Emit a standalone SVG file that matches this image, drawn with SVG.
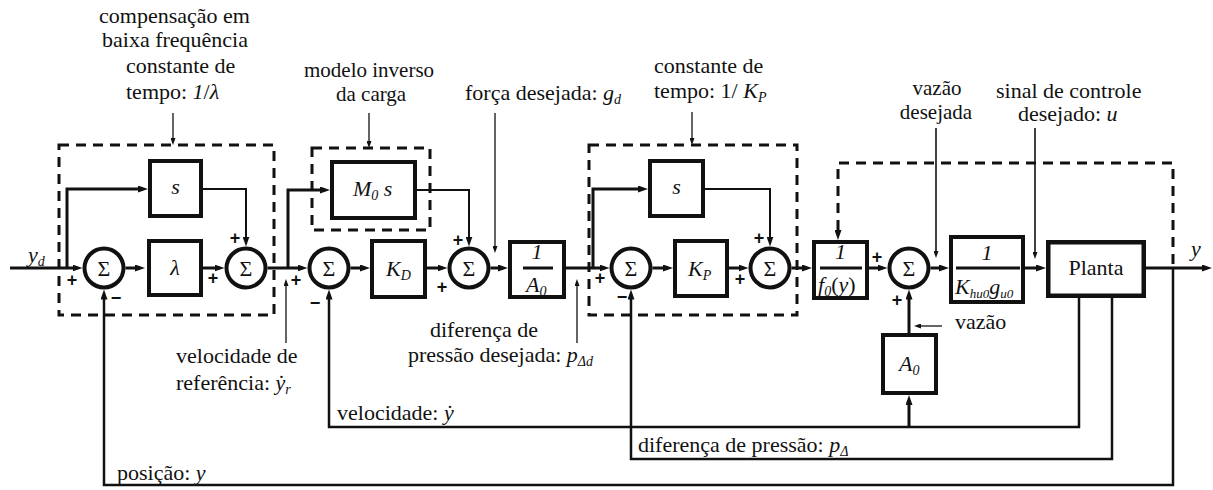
<svg xmlns="http://www.w3.org/2000/svg" width="1213" height="490" viewBox="0 0 1213 490">
<defs>
<style>
.t{font-family:"Liberation Serif","Times New Roman",serif;font-size:22px;fill:#111}
.s21{font-size:21px}
.i{font-style:italic}
.sub{font-size:14px}
.sg{font-family:"Liberation Sans",Arial,sans-serif;font-size:18px;font-weight:bold;fill:#111;text-anchor:middle}
.c{text-anchor:middle}
.box{fill:#fff;stroke:#111;stroke-width:4}
.sum{fill:#fff;stroke:#111;stroke-width:4}
.w3{fill:none;stroke:#111;stroke-width:3}
.w2{fill:none;stroke:#111;stroke-width:2}
.fb{fill:none;stroke:#111;stroke-width:2.5}
.pt{fill:none;stroke:#111;stroke-width:1.3}
.pt2{fill:none;stroke:#111;stroke-width:1.6}
.dash{fill:none;stroke:#111;stroke-width:3;stroke-dasharray:10 7}
.bar{stroke:#111;stroke-width:3}
</style>
<marker id="a" viewBox="0 0 10 7" refX="5" refY="3.5" markerWidth="10" markerHeight="7" markerUnits="userSpaceOnUse" orient="auto"><path d="M0,0L10,3.5L0,7z" fill="#111"/></marker>
<marker id="b" viewBox="0 0 7 5" refX="3" refY="2.5" markerWidth="7" markerHeight="5" markerUnits="userSpaceOnUse" orient="auto"><path d="M0,0L7,2.5L0,5z" fill="#111"/></marker>
</defs>
<rect width="1213" height="490" fill="#fff"/>

<!-- dashed groupings -->
<g id="groups">
<rect class="dash" x="59" y="145" width="215" height="170"/>
<rect class="dash" x="312" y="148" width="118" height="82"/>
<rect class="dash" x="589" y="145" width="208" height="170"/>
<path class="dash" d="M1173,264V163H838V235" marker-end="url(#a)"/>
</g>

<!-- connectors -->
<g id="connectors">
<path class="w3" d="M10,268H77.5" marker-end="url(#a)"/>
<path class="w3" d="M125.5,268H140" marker-end="url(#a)"/>
<path class="w3" d="M203,268H219.5" marker-end="url(#a)"/>
<path class="w3" d="M267.5,268H302.5" marker-end="url(#a)"/>
<path class="w3" d="M350.5,268H365" marker-end="url(#a)"/>
<path class="w3" d="M427,268H442.5" marker-end="url(#a)"/>
<path class="w3" d="M490.5,268H503" marker-end="url(#a)"/>
<path class="w3" d="M566,268H604.5" marker-end="url(#a)"/>
<path class="w3" d="M652.5,268H668" marker-end="url(#a)"/>
<path class="w3" d="M729,268H743.5" marker-end="url(#a)"/>
<path class="w3" d="M791.5,268H807" marker-end="url(#a)"/>
<path class="w3" d="M869,268H882.5" marker-end="url(#a)"/>
<path class="w3" d="M930.5,268H944" marker-end="url(#a)"/>
<path class="w3" d="M1025,268H1041" marker-end="url(#a)"/>
<path class="w3" d="M1146,268H1207" marker-end="url(#a)"/>
<!-- feedforward branches -->
<path class="w3" d="M67,268V189H143" marker-end="url(#a)"/>
<path class="w2" d="M203,189H246V241.5" marker-end="url(#a)"/>
<path class="w3" d="M288,268V190H325" marker-end="url(#a)"/>
<path class="w2" d="M417,190H469V241.5" marker-end="url(#a)"/>
<path class="w3" d="M593,268V189H643" marker-end="url(#a)"/>
<path class="w2" d="M705,189H770V241.5" marker-end="url(#a)"/>
<!-- feedback paths -->
<path class="fb" d="M1173,268V485H104V294.5" marker-end="url(#a)"/>
<path class="fb" d="M1079,298V427H329V294.5" marker-end="url(#a)"/>
<path class="fb" d="M1112,298V459H631V294.5" marker-end="url(#a)"/>
<path class="w3" d="M909,427V400" marker-end="url(#a)"/>
<path class="w3" d="M909,333V294.5" marker-end="url(#a)"/>
<!-- annotation pointers -->
<path class="pt" d="M173,113V141" marker-end="url(#b)"/>
<path class="pt" d="M369,113V144" marker-end="url(#b)"/>
<path class="pt" d="M495,113V249" marker-end="url(#b)"/>
<path class="pt" d="M692,112V141" marker-end="url(#b)"/>
<path class="pt2" d="M936,128V254" marker-end="url(#b)"/>
<path class="pt2" d="M1035,128V255" marker-end="url(#b)"/>
<path class="pt" d="M286,343V283" marker-end="url(#b)"/>
<path class="pt" d="M577,343V283" marker-end="url(#b)"/>
<path class="pt" d="M942,326H918" marker-end="url(#b)"/>
</g>

<!-- summing junctions -->
<g id="sum1"><circle class="sum" cx="104" cy="268" r="19.5"/><text class="t c" x="104" y="276">Σ</text><text class="sg" x="72" y="286">+</text><text class="sg" x="116" y="304">−</text></g>
<g id="sum2"><circle class="sum" cx="246" cy="268" r="19.5"/><text class="t c" x="246" y="276">Σ</text><text class="sg" x="235" y="244">+</text><text class="sg" x="213" y="284">+</text></g>
<g id="sum3"><circle class="sum" cx="329" cy="268" r="19.5"/><text class="t c" x="329" y="276">Σ</text><text class="sg" x="296" y="286">+</text><text class="sg" x="315" y="309">−</text></g>
<g id="sum4"><circle class="sum" cx="469" cy="268" r="19.5"/><text class="t c" x="469" y="276">Σ</text><text class="sg" x="458" y="246">+</text><text class="sg" x="442" y="293">+</text></g>
<g id="sum5"><circle class="sum" cx="631" cy="268" r="19.5"/><text class="t c" x="631" y="276">Σ</text><text class="sg" x="600" y="284">+</text><text class="sg" x="622" y="303">−</text></g>
<g id="sum6"><circle class="sum" cx="770" cy="268" r="19.5"/><text class="t c" x="770" y="276">Σ</text><text class="sg" x="759" y="244">+</text><text class="sg" x="740" y="285">+</text></g>
<g id="sum7"><circle class="sum" cx="909" cy="268" r="19.5"/><text class="t c" x="909" y="276">Σ</text><text class="sg" x="877" y="263">+</text><text class="sg" x="897" y="306">+</text></g>

<!-- blocks -->
<g id="deriv1"><rect class="box" x="150" y="161" width="51" height="55"/><text class="t i c" x="175.5" y="194">s</text></g>
<g id="lambda"><rect class="box" x="149" y="241" width="52" height="54"/><text class="t i c" x="175" y="275">λ</text></g>
<g id="inverse-load"><rect class="box" x="332" y="162" width="83" height="56"/><text class="t" x="353" y="196"><tspan class="i">M</tspan><tspan class="sub i" dy="4">0</tspan><tspan dy="-4"> </tspan><tspan class="i">s</tspan></text></g>
<g id="kd"><rect class="box" x="372" y="241" width="53" height="56"/><text class="t" x="386" y="276"><tspan class="i">K</tspan><tspan class="sub i" dy="4">D</tspan></text></g>
<g id="inv-a0"><rect class="box" x="510" y="242" width="54" height="55"/><text class="t i c" x="537" y="259">1</text><line class="bar" x1="523" y1="268" x2="553" y2="268"/><text class="t" x="526" y="292"><tspan class="i">A</tspan><tspan class="sub i" dy="4">0</tspan></text></g>
<g id="deriv2"><rect class="box" x="650" y="161" width="53" height="55"/><text class="t i c" x="676.5" y="194">s</text></g>
<g id="kp"><rect class="box" x="675" y="241" width="52" height="55"/><text class="t" x="688" y="276"><tspan class="i">K</tspan><tspan class="sub i" dy="4">P</tspan></text></g>
<g id="inv-f0"><rect class="box" x="814" y="242" width="53" height="56"/><text class="t i c" x="840.5" y="259">1</text><line class="bar" x1="820" y1="268" x2="862" y2="268"/><text class="t" x="818" y="292"><tspan class="i">f</tspan><tspan class="sub i" dy="4">0</tspan><tspan dy="-4">(</tspan><tspan class="i">y</tspan>)</text></g>
<g id="inv-khu"><rect class="box" x="951" y="237" width="72" height="65"/><text class="t i c" x="987" y="260">1</text><line class="bar" x1="956" y1="268" x2="1020" y2="268"/><text class="t" x="955" y="294"><tspan class="i">K</tspan><tspan class="i" font-size="13" dy="4">hu0</tspan><tspan class="i" dy="-4">g</tspan><tspan class="i" font-size="13" dy="4">u0</tspan></text></g>
<g id="plant"><rect x="1048.25" y="242.25" width="95.5" height="53.5" fill="#fff" stroke="#111" stroke-width="4.5"/><text class="t c" x="1096" y="275">Planta</text></g>
<g id="a0"><rect class="box" x="883" y="335" width="53" height="58"/><text class="t" x="899" y="371"><tspan class="i">A</tspan><tspan class="sub i" dy="4">0</tspan></text></g>

<!-- signal and annotation labels -->
<g id="labels">
<text class="t" x="28" y="262"><tspan class="i">y</tspan><tspan class="sub i" dy="4">d</tspan></text>
<text class="t i" x="1191" y="256">y</text>
<text class="t" x="99" y="23">compensação em</text>
<text class="t" x="102" y="47">baixa frequência</text>
<text class="t" x="126" y="73">constante de</text>
<text class="t" x="126" y="99">tempo: <tspan class="i">1</tspan>/<tspan class="i">λ</tspan></text>
<text class="t s21" x="304" y="77">modelo inverso</text>
<text class="t s21" x="336" y="101">da carga</text>
<text class="t" x="465" y="100">força desejada: <tspan class="i">g</tspan><tspan class="sub i" dy="4">d</tspan></text>
<text class="t" x="654" y="73">constante de</text>
<text class="t" x="654" y="98">tempo: 1/ <tspan class="i">K</tspan><tspan class="sub i" dy="4">P</tspan></text>
<text class="t s21 c" x="937" y="95">vazão</text>
<text class="t s21 c" x="936" y="119">desejada</text>
<text class="t" x="996" y="98">sinal de controle</text>
<text class="t" x="1018" y="121">desejado: <tspan class="i">u</tspan></text>
<text class="t" x="176" y="363">velocidade de</text>
<text class="t" x="176" y="390">referência: <tspan class="i">y</tspan><tspan dx="-7.5">˙</tspan><tspan class="sub i" dy="4">r</tspan></text>
<text class="t c" x="484" y="337">diferença de</text>
<text class="t" x="408" y="362">pressão desejada: <tspan class="i">p</tspan><tspan class="sub i" dy="4">Δd</tspan></text>
<text class="t" x="337" y="420">velocidade: <tspan class="i">y</tspan><tspan dx="-7.5">˙</tspan></text>
<text class="t" x="638" y="452">diferença de pressão: <tspan class="i">p</tspan><tspan class="sub i" dy="4">Δ</tspan></text>
<text class="t" x="117" y="480">posição: <tspan class="i">y</tspan></text>
<text class="t" x="955" y="329">vazão</text>
</g>
</svg>
